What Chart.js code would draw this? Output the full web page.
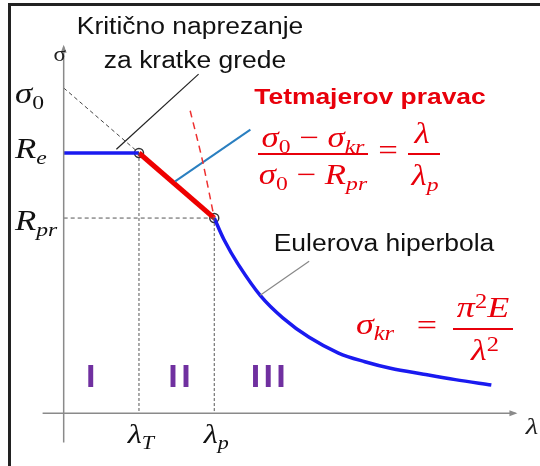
<!DOCTYPE html>
<html lang="hr">
<head>
<meta charset="UTF-8" />
<title>Kritično naprezanje</title>
<script src="https://cdn.jsdelivr.net/npm/chart.js"></script>
<style>
  body { margin: 0; background: #fff; }
  #wrap { position: relative; width: 540px; height: 466px; }
  #frame { position: absolute; left: 8px; top: 3px; right: 0; bottom: 0;
           border-top: 3px solid #222; border-left: 3px solid #222; pointer-events: none; }
</style>
</head>
<body>
<div id="wrap">
  <canvas id="chart" width="540" height="466"></canvas>
  <div id="frame"></div>
</div>
<script>
// ---- data (λ = slenderness, σ = stress) ----
const sigmaTicks = [300, 240, 180];          // σ0, Re, Rpr
const sigmaTickBase = ['σ', 'R', 'R'];
const sigmaTickSub = ['0', 'e', 'pr'];
const lambdaTicks = [50, 100];               // λT, λp
const lambdaTickBase = ['λ', 'λ'];
const lambdaTickSub = ['T', 'p'];

const plasticLambda = [0, 50];
const plasticSigma = [240, 240];
const tetmajerLambda = [50, 100];
const tetmajerSigma = [240, 180];
const tetmajerExtLambda = [0, 50];
const tetmajerExtSigma = [300, 240];
const eulerLambda = [100, 106.5, 115.6, 130.5, 145.5, 163, 182.5, 200, 217, 239, 260, 284];
const eulerSigma = [180, 160, 138, 108.7, 88, 70, 55.5, 47.5, 41.5, 36, 31, 26];
const eulerExtLambda = [84, 92, 100];
const eulerExtSigma = [279, 234, 180];

const zoneNames = ['I', 'II', 'III'];
const zoneLambda = [19, 78, 137];
const zoneSigma = [32, 32, 32];

const axisLambda = [-14, 300];
const axisSigma = [-27, 338];

function pts(xs, ys) { return xs.map((x, i) => ({ x: x, y: ys[i] })); }

function line(data, color, width, dash) {
  return { data: data, showLine: true, borderColor: color, borderWidth: width,
           borderDash: dash || [], pointRadius: 0, fill: false };
}

const datasets = [
  line(pts(axisLambda, [0, 0]), '#8a8a8a', 1.5),
  line(pts([0, 0], axisSigma), '#8a8a8a', 1.5),
  line(pts([0, lambdaTicks[1]], [sigmaTicks[2], sigmaTicks[2]]), '#555', 1, [4, 3]),
  line(pts([lambdaTicks[0], lambdaTicks[0]], [sigmaTicks[1], 0]), '#555', 1, [3, 2]),
  line(pts([lambdaTicks[1], lambdaTicks[1]], [sigmaTicks[2], 0]), '#555', 1, [3, 2]),
  line(pts(tetmajerExtLambda, tetmajerExtSigma), '#444', 1, [4, 3]),
  Object.assign(line(pts(eulerExtLambda, eulerExtSigma), '#ee3030', 1.5, [7, 5]), { tension: 0.3 }),
  // leader lines
  line(pts([35, 89.6], [243.5, 312.7]), '#222', 1.2),
  line(pts([74, 124], [213.8, 261.5]), '#2a7fc0', 2),
  line(pts([130.5, 163], [108.7, 140.2]), '#888', 1.2),
  line(pts(plasticLambda, plasticSigma), '#1a1af0', 3.5),
  line(pts(tetmajerLambda, tetmajerSigma), '#ee0000', 5),
  Object.assign(line(pts(eulerLambda, eulerSigma), '#1a1af0', 3.5), { tension: 0.35 }),
  { data: pts(tetmajerLambda, tetmajerSigma), showLine: false, pointRadius: 4.5,
    pointBackgroundColor: '#fff', pointBorderColor: '#333', pointBorderWidth: 1.5 }
];

const SX = 1.15;   // horizontal stretch of the original picture (sans text)
const SXM = 1.2;   // same for the math text

function drawText(ctx, str, x, y, font, color, align, sx) {
  sx = sx || SX;
  ctx.save();
  ctx.font = font;
  ctx.fillStyle = color;
  ctx.textBaseline = 'middle';
  const w = ctx.measureText(str).width * sx;
  const left = align === 'left' ? x : align === 'right' ? x - w : x - w / 2;
  ctx.translate(left, y);
  ctx.scale(sx, 1);
  ctx.textAlign = 'left';
  ctx.fillText(str, 0, 0);
  ctx.restore();
}

// parts: [text, style] with style i=italic, n=normal, s=subscript, p=superscript
function drawMath(ctx, parts, x, y, size, color, align) {
  const fam = '"Liberation Serif", "DejaVu Serif", serif';
  const fontOf = (t, st) => {
    const small = st === 's' || st === 'p';
    const sz = small ? size * 0.68 : size;
    const ital = /[a-zA-Zσλπ]/.test(t) ? 'italic ' : '';
    return ital + sz + 'px ' + fam;
  };
  ctx.save();
  let total = 0;
  const widths = parts.map(([t, st]) => {
    ctx.font = fontOf(t, st);
    const w = ctx.measureText(t).width * SXM;
    total += w;
    return w;
  });
  let cx = align === 'left' ? x : align === 'right' ? x - total : x - total / 2;
  ctx.fillStyle = color;
  ctx.textBaseline = 'middle';
  ctx.textAlign = 'left';
  parts.forEach(([t, st], i) => {
    ctx.font = fontOf(t, st);
    const dy = st === 's' ? size * 0.3 : st === 'p' ? -size * 0.22 : 0;
    ctx.save();
    ctx.translate(cx, y + dy);
    ctx.scale(SXM, 1);
    ctx.fillText(t, 0, 0);
    ctx.restore();
    cx += widths[i];
  });
  ctx.restore();
  return total;
}

function hline(ctx, x1, x2, y, color, w) {
  ctx.save();
  ctx.strokeStyle = color; ctx.lineWidth = w;
  ctx.beginPath(); ctx.moveTo(x1, y); ctx.lineTo(x2, y); ctx.stroke();
  ctx.restore();
}

const annotations = {
  id: 'annotations',
  afterDatasetsDraw(chart) {
    const ctx = chart.ctx;
    const xs = chart.scales.x, ys = chart.scales.y;
    const X = v => xs.getPixelForValue(v), Y = v => ys.getPixelForValue(v);
    const sans = '"Liberation Sans", Arial, sans-serif';
    const red = '#e8000b';

    // arrow heads
    ctx.save();
    ctx.fillStyle = '#8a8a8a';
    let ax = X(axisLambda[1]), ay = Y(0);
    ctx.beginPath(); ctx.moveTo(ax + 2, ay); ctx.lineTo(ax - 6, ay - 3); ctx.lineTo(ax - 6, ay + 3); ctx.fill();
    ax = X(0); ay = Y(axisSigma[1]);
    ctx.beginPath(); ctx.moveTo(ax, ay - 2); ctx.lineTo(ax - 3, ay + 6); ctx.lineTo(ax + 3, ay + 6); ctx.fill();
    ctx.restore();

    // axis names
    drawText(ctx, 'σ', X(0) - 4, Y(330), '20px "Liberation Serif", serif', '#222', 'center');
    drawMath(ctx, [['λ', 'i']], X(311), Y(-13), 24, '#222', 'center');

    // tick labels
    const sigmaLabelDy = [10, 0, 7];
    sigmaTicks.forEach((v, i) => {
      drawMath(ctx, [[sigmaTickBase[i], 'i'], [sigmaTickSub[i], 's']], 15, Y(v) - 3 + sigmaLabelDy[i], 29, '#111', 'left');
    });
    lambdaTicks.forEach((v, i) => {
      drawMath(ctx, [[lambdaTickBase[i], 'i'], [lambdaTickSub[i], 's']], X(v) + 2, Y(-18) + 3, 27, '#111', 'center');
    });

    // zones
    zoneNames.forEach((n, i) => {
      ctx.save();
      ctx.letterSpacing = '3px';
      drawText(ctx, n, X(zoneLambda[i]), Y(zoneSigma[i]), 'bold 31px ' + sans, '#7030a0', 'center', 1.1);
      ctx.restore();
    });

    // texts
    drawText(ctx, 'Kritično naprezanje', 190, 28, '23px ' + sans, '#111', 'center');
    drawText(ctx, 'za kratke grede', 195, 62, '23px ' + sans, '#111', 'center');
    drawText(ctx, 'Tetmajerov pravac', 370, 98, 'bold 22px ' + sans, red, 'center', 1.2);
    drawText(ctx, 'Eulerova hiperbola', 384, 245, '23px ' + sans, '#111', 'center');

    // Tetmajer formula
    drawMath(ctx, [['σ', 'i'], ['0', 's'], [' − ', 'n'], ['σ', 'i'], ['kr', 's']], 313, 139, 29, red, 'center');
    hline(ctx, 258, 368, 154, red, 2);
    drawMath(ctx, [['σ', 'i'], ['0', 's'], [' − ', 'n'], ['R', 'i'], ['pr', 's']], 313, 176, 29, red, 'center');
    drawMath(ctx, [['=', 'n']], 388, 152, 29, red, 'center');
    drawMath(ctx, [['λ', 'i']], 422, 135, 29, red, 'center');
    hline(ctx, 408, 440, 154, red, 2);
    drawMath(ctx, [['λ', 'i'], ['p', 's']], 425, 177, 29, red, 'center');

    // Euler formula
    drawMath(ctx, [['σ', 'i'], ['kr', 's']], 356, 326, 30, red, 'left');
    drawMath(ctx, [['=', 'n']], 427, 327, 30, red, 'center');
    drawMath(ctx, [['π', 'i'], ['2', 'p'], ['E', 'i']], 483, 309, 30, red, 'center');
    hline(ctx, 453, 513, 329, red, 2);
    drawMath(ctx, [['λ', 'i'], ['2', 'p']], 485, 352, 30, red, 'center');
  }
};

new Chart(document.getElementById('chart'), {
  type: 'scatter',
  data: { datasets: datasets },
  options: {
    responsive: false,
    animation: false,
    layout: { padding: 0 },
    scales: {
      x: { type: 'linear', display: false, min: -38.31, max: 312.34 },
      y: { type: 'linear', display: false, min: -43.13, max: 375.56 }
    },
    plugins: { legend: { display: false }, tooltip: { enabled: false } }
  },
  plugins: [annotations]
});
</script>
</body>
</html>
